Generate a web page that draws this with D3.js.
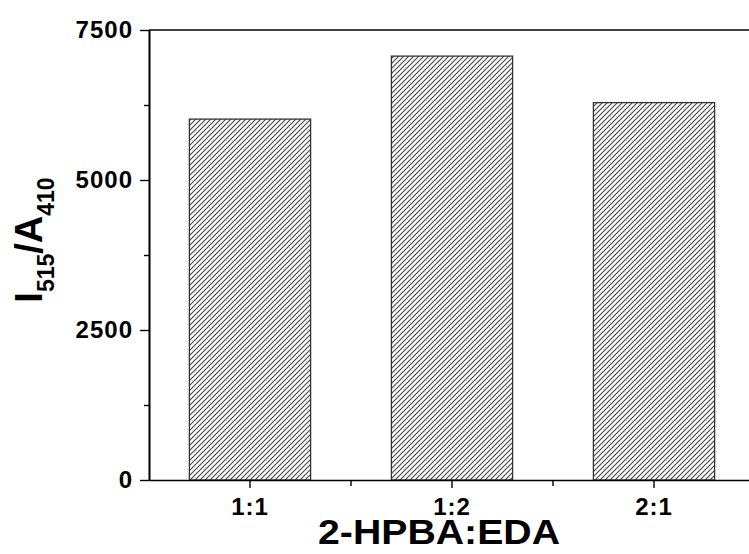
<!DOCTYPE html>
<html>
<head>
<meta charset="utf-8">
<script src="https://cdn.jsdelivr.net/npm/d3@7"></script>
<style>
  body { margin: 0; background: #fff; }
  svg text { font-family: "Liberation Sans", Arial, sans-serif; font-weight: bold; fill: #000; }
</style>
</head>
<body>
<div id="the_chart"></div>
<script>
// data
const categories = ["1:1", "1:2", "2:1"];
const values = [6015, 7065, 6290];
const yTicks = [0, 2500, 5000, 7500];
const yMinorTicks = [1250, 3750, 6250];

var w = 749, h = 554;
var padLeft = 149, padTop = 30, padBottom = 480, padRight = 755; // right edge runs off the picture

var svg = d3.select("#the_chart")
    .append("svg")
    .attr("width", w)
    .attr("height", h);

// diagonal hatch used by the bars
var pat = svg.append("defs").append("pattern")
    .attr("id", "hatch")
    .attr("patternUnits", "userSpaceOnUse")
    .attr("width", 5)
    .attr("height", 5);
pat.append("rect").attr("width", 5).attr("height", 5).attr("fill", "#fff");
pat.append("path")
    .attr("d", "M-1,6 L6,-1 M-2,2 L2,-2 M3,7 L7,3")
    .attr("stroke", "#444")
    .attr("stroke-width", 1.1);

var xscale = d3.scaleBand()
    .domain(categories)
    .range([padLeft, padRight])
    .paddingInner(0.4)
    .paddingOuter(0.2);

var yscale = d3.scaleLinear()
    .domain([0, 7500])
    .range([padBottom, padTop]);

// bars
svg.selectAll("rect.bar")
    .data(values)
    .enter().append("rect")
    .attr("class", "bar")
    .attr("x", (d, i) => xscale(categories[i]))
    .attr("y", d => yscale(d))
    .attr("width", xscale.bandwidth())
    .attr("height", d => padBottom - yscale(d))
    .attr("fill", "url(#hatch)")
    .attr("stroke", "#333")
    .attr("stroke-width", 1.3);

// top frame line
svg.append("line")
    .attr("x1", padLeft).attr("x2", padRight)
    .attr("y1", padTop).attr("y2", padTop)
    .attr("stroke", "#444")
    .attr("stroke-width", 2);

// y axis
var yaxis = d3.axisLeft(yscale)
    .tickValues(yTicks)
    .tickSize(9)
    .tickSizeOuter(0)
    .tickPadding(7)
    .tickFormat(d3.format("d"));
var gy = svg.append("g")
    .attr("transform", "translate(" + padLeft + ",0)")
    .call(yaxis);
gy.selectAll("text").style("font-size", "24px").style("letter-spacing", "1px");

svg.append("g")
    .attr("transform", "translate(" + padLeft + ",0)")
    .call(d3.axisLeft(yscale).tickValues(yMinorTicks).tickSize(5).tickSizeOuter(0).tickFormat(""));

// x axis
var step = xscale.step();
var xaxis = d3.axisBottom(xscale)
    .tickSize(8)
    .tickSizeOuter(0)
    .tickPadding(10);
var gx = svg.append("g")
    .attr("transform", "translate(0," + padBottom + ")")
    .call(xaxis);
gx.selectAll("text").style("font-size", "24px").style("letter-spacing", "1px");

// minor ticks between categories
var minorX = categories.map(c => xscale(c) + xscale.bandwidth() / 2 + step / 2);
svg.append("g").selectAll("line")
    .data(minorX)
    .enter().append("line")
    .attr("x1", d => d).attr("x2", d => d)
    .attr("y1", padBottom).attr("y2", padBottom + 6)
    .attr("stroke", "#000")
    .attr("stroke-width", 1.4);

svg.selectAll(".domain").attr("stroke-width", 1.6);
svg.selectAll(".tick line").attr("stroke-width", 1.4);

// axis titles
svg.append("text")
    .attr("transform", "translate(439,544) scale(1.09,1)")
    .attr("text-anchor", "middle")
    .style("font-size", "36px")
    .text("2-HPBA:EDA");

var ylab = svg.append("text")
    .attr("transform", "translate(42,240) rotate(-90)")
    .attr("text-anchor", "middle")
    .style("font-size", "38px");
ylab.append("tspan").text("I");
ylab.append("tspan").attr("dy", 12).style("font-size", "23px").text("515");
ylab.append("tspan").attr("dy", -12).text("/A");
ylab.append("tspan").attr("dy", 12).style("font-size", "23px").text("410");
</script>
</body>
</html>
